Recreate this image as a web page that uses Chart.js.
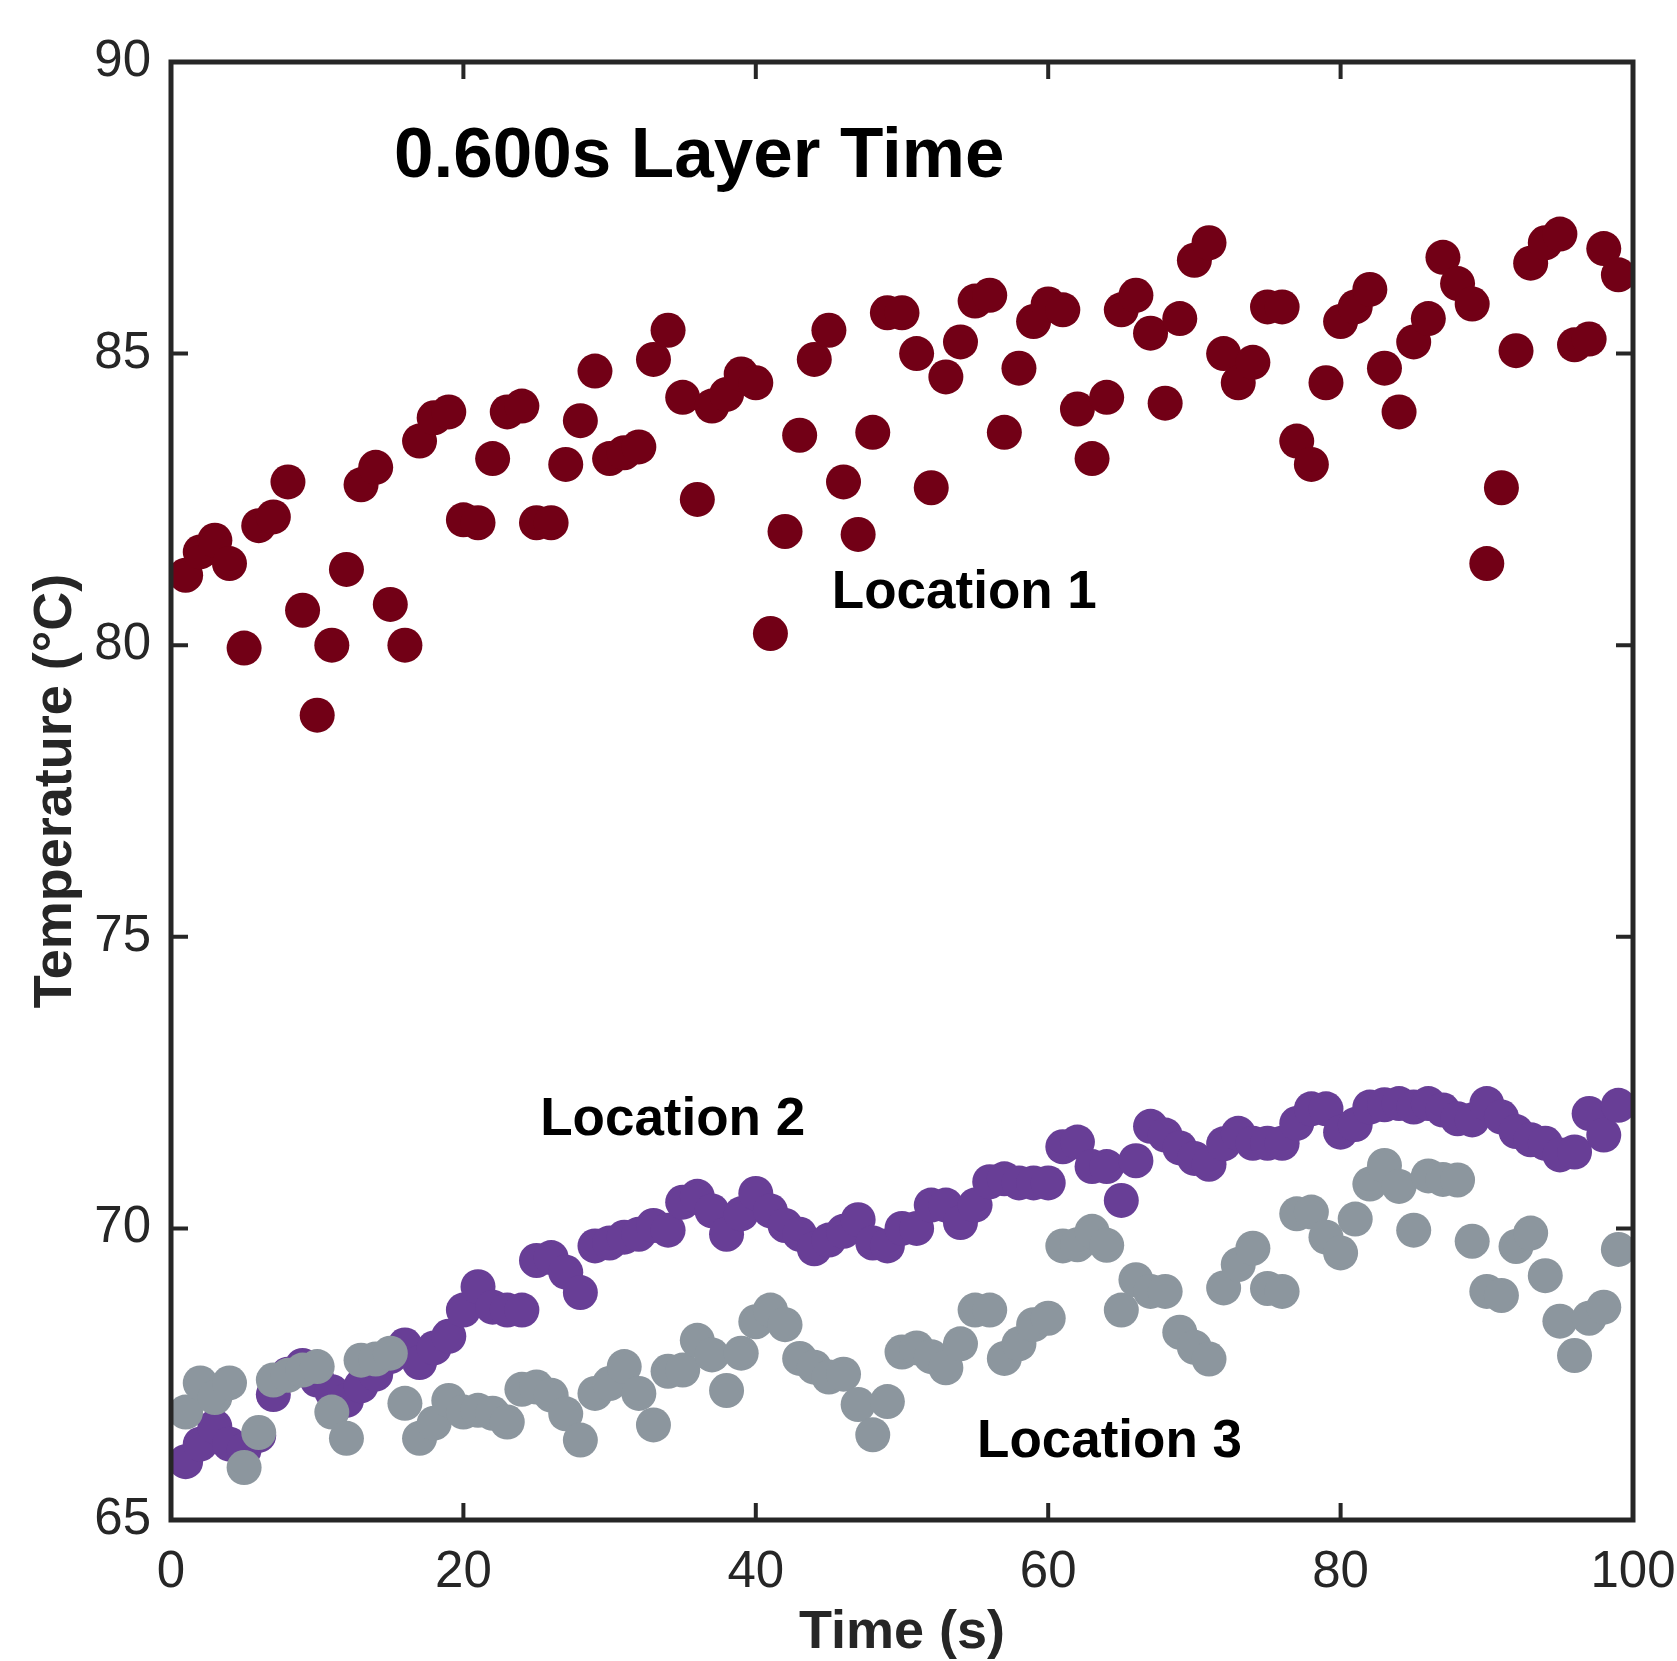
<!DOCTYPE html>
<html>
<head>
<meta charset="utf-8">
<title>0.600s Layer Time</title>
<script src="https://cdn.jsdelivr.net/npm/chart.js@4.4.1/dist/chart.umd.min.js"></script>
<style>
  html, body { margin: 0; padding: 0; background: #ffffff; }
  #wrap { width: 1677px; height: 1661px; position: relative; }
</style>
</head>
<body>
<div id="wrap"><canvas id="tempChart"></canvas></div>
<script>
// Data (one sample per second)
const seconds = [1, 2, 3, 4, 5, 6, 7, 8, 9, 10, 11, 12, 13, 14, 15, 16, 17, 18, 19, 20,
  21, 22, 23, 24, 25, 26, 27, 28, 29, 30, 31, 32, 33, 34, 35, 36, 37, 38, 39, 40,
  41, 42, 43, 44, 45, 46, 47, 48, 49, 50, 51, 52, 53, 54, 55, 56, 57, 58, 59, 60,
  61, 62, 63, 64, 65, 66, 67, 68, 69, 70, 71, 72, 73, 74, 75, 76, 77, 78, 79, 80,
  81, 82, 83, 84, 85, 86, 87, 88, 89, 90, 91, 92, 93, 94, 95, 96, 97, 98, 99];

const location1 = [81.2, 81.6, 81.8, 81.4, 79.95, 82.05, 82.2, 82.8, 80.6, 78.8,
  80.0, 81.3, 82.75, 83.05, 80.7, 80.0, 83.5, 83.9, 84.0, 82.15,
  82.1, 83.2, 84.0, 84.1, 82.1, 82.1, 83.1, 83.85, 84.7, 83.2,
  83.3, 83.4, 84.9, 85.4, 84.25, 82.5, 84.1, 84.3, 84.65, 84.5,
  80.2, 81.95, 83.6, 84.9, 85.4, 82.8, 81.9, 83.65, 85.7, 85.7,
  85.0, 82.7, 84.6, 85.2, 85.9, 86.0, 83.65, 84.75, 85.55, 85.85,
  85.75, 84.05, 83.2, 84.25, 85.75, 86.0, 85.35, 84.15, 85.6, 86.6,
  86.9, 85.0, 84.5, 84.85, 85.8, 85.8, 83.5, 83.1, 84.5, 85.55,
  85.8, 86.1, 84.75, 84.0, 85.2, 85.6, 86.65, 86.2, 85.85, 81.4,
  82.7, 85.05, 86.55, 86.9, 87.05, 85.15, 85.25, 86.8, 86.35];

const location2 = [66.0, 66.3, 66.6, 66.3, 66.2, 66.45, 67.15, 67.5, 67.65, 67.4,
  67.2, 67.05, 67.3, 67.5, 67.8, 68.0, 67.7, 67.95, 68.15, 68.6,
  69.0, 68.65, 68.6, 68.6, 69.45, 69.5, 69.25, 68.9, 69.7, 69.75,
  69.85, 69.9, 70.05, 69.97, 70.45, 70.55, 70.3, 69.9, 70.25, 70.6,
  70.3, 70.05, 69.9, 69.65, 69.8, 69.95, 70.15, 69.75, 69.7, 70.0,
  70.0, 70.4, 70.4, 70.1, 70.4, 70.8, 70.85, 70.78, 70.78, 70.78,
  71.4, 71.48, 71.06, 71.06, 70.48, 71.16, 71.75, 71.6, 71.38, 71.2,
  71.1, 71.45, 71.63, 71.46, 71.46, 71.46, 71.8, 72.05, 72.05, 71.65,
  71.78, 72.08, 72.12, 72.14, 72.08, 72.14, 72.03, 71.88, 71.86, 72.14,
  71.91, 71.66, 71.52, 71.46, 71.26, 71.31, 71.97, 71.6, 72.11];

const location3 = [66.85, 67.35, 67.1, 67.35, 65.9, 66.5, 67.4, 67.48, 67.57, 67.63,
  66.85, 66.4, 67.74, 67.76, 67.86, 67.0, 66.4, 66.66, 67.05, 66.85,
  66.88, 66.83, 66.68, 67.24, 67.28, 67.14, 66.82, 66.37, 67.17, 67.34,
  67.63, 67.17, 66.63, 67.55, 67.57, 68.08, 67.83, 67.22, 67.86, 68.4,
  68.6, 68.35, 67.77, 67.62, 67.45, 67.5, 66.98, 66.46, 67.03, 67.88,
  67.95, 67.8, 67.61, 68.02, 68.6, 68.6, 67.77, 68.02, 68.35, 68.46,
  69.7, 69.72, 69.95, 69.71, 68.6, 69.12, 68.92, 68.92, 68.22, 67.96,
  67.76, 68.98, 69.38, 69.66, 68.97, 68.92, 70.25, 70.28, 69.85, 69.58,
  70.16, 70.76, 71.08, 70.72, 69.97, 70.9, 70.84, 70.83, 69.78, 68.92,
  68.85, 69.69, 69.92, 69.19, 68.41, 67.82, 68.46, 68.65, 69.64];

const xTicks = [0, 20, 40, 60, 80, 100];
const yTicks = [65, 70, 75, 80, 85, 90];

// Text placed inside the plot, anchored in data units (left edge, baseline)
const noteTexts = ['0.600s Layer Time', 'Location 1', 'Location 2', 'Location 3'];
const noteX = [15.25, 45.2, 25.25, 55.13];
const noteY = [88.03, 80.64, 71.6, 66.08];
const noteSize = [71, 53, 53, 53];

const FONT = '"Liberation Sans", Arial, Helvetica, sans-serif';
const INK = '#262626';
const TICK = 17;

function toPoints(ys) {
  return seconds.map((s, i) => ({ x: s, y: ys[i] }));
}

// Boxed axes with inward ticks on all four sides
const framePlugin = {
  id: 'frame',
  afterDatasetsDraw(chart) {
    const { ctx, chartArea: a, scales: { x, y } } = chart;
    ctx.save();
    ctx.strokeStyle = INK;
    ctx.lineWidth = 4;
    ctx.beginPath();
    xTicks.forEach(v => {
      const px = x.getPixelForValue(v);
      ctx.moveTo(px, a.bottom); ctx.lineTo(px, a.bottom - TICK);
      ctx.moveTo(px, a.top); ctx.lineTo(px, a.top + TICK);
    });
    yTicks.forEach(v => {
      const py = y.getPixelForValue(v);
      ctx.moveTo(a.left, py); ctx.lineTo(a.left + TICK, py);
      ctx.moveTo(a.right, py); ctx.lineTo(a.right - TICK, py);
    });
    ctx.stroke();
    ctx.lineWidth = 5;
    ctx.strokeRect(a.left, a.top, a.right - a.left, a.bottom - a.top);
    ctx.restore();
  }
};

const notesPlugin = {
  id: 'notes',
  afterDatasetsDraw(chart) {
    const { ctx, scales: { x, y } } = chart;
    ctx.save();
    ctx.fillStyle = '#000000';
    ctx.textAlign = 'left';
    ctx.textBaseline = 'alphabetic';
    noteTexts.forEach((t, i) => {
      ctx.font = 'bold ' + noteSize[i] + 'px ' + FONT;
      ctx.fillText(t, x.getPixelForValue(noteX[i]), y.getPixelForValue(noteY[i]));
    });
    ctx.restore();
  }
};

const ctx = document.getElementById('tempChart').getContext('2d');

new Chart(ctx, {
  type: 'scatter',
  data: {
    datasets: [{
      label: 'Location 3',
      data: toPoints(location3),
      backgroundColor: '#8c969e',
      borderColor: '#8c969e'
    }, {
      label: 'Location 2',
      data: toPoints(location2),
      backgroundColor: '#683e96',
      borderColor: '#683e96'
    }, {
      label: 'Location 1',
      data: toPoints(location1),
      backgroundColor: '#720016',
      borderColor: '#720016'
    }]
  },
  options: {
    responsive: true,
    maintainAspectRatio: false,
    animation: false,
    events: [],
    layout: { padding: { left: 0, top: 62, right: 44, bottom: 0 } },
    elements: {
      point: { radius: 17.5, borderWidth: 0, hoverRadius: 17.5, pointStyle: 'circle' }
    },
    plugins: {
      legend: { display: false },
      tooltip: { enabled: false }
    },
    scales: {
      x: {
        type: 'linear',
        min: 0,
        max: 100,
        grid: { display: false, drawTicks: false },
        border: { display: false },
        ticks: {
          stepSize: 20,
          padding: 22,
          color: INK,
          maxRotation: 0,
          font: { family: FONT, size: 51 }
        },
        title: {
          display: true,
          text: 'Time (s)',
          color: INK,
          padding: { top: 0, bottom: 1 },
          font: { family: FONT, size: 54, weight: 'bold', lineHeight: 1 }
        },
        afterFit(scale) {
          scale.height = 141;
          scale.paddingLeft = 0;
          scale.paddingRight = 0;
        }
      },
      y: {
        type: 'linear',
        min: 65,
        max: 90,
        grid: { display: false, drawTicks: false },
        border: { display: false },
        ticks: {
          stepSize: 5,
          padding: 20,
          color: INK,
          font: { family: FONT, size: 51 }
        },
        title: {
          display: true,
          text: 'Temperature (\u00B0C)',
          color: INK,
          padding: { top: 29, bottom: 0 },
          font: { family: FONT, size: 54, weight: 'bold', lineHeight: 1 }
        },
        afterFit(scale) {
          scale.width = 171;
          scale.paddingTop = 0;
          scale.paddingBottom = 0;
        }
      }
    }
  },
  plugins: [framePlugin, notesPlugin]
});
</script>
</body>
</html>
